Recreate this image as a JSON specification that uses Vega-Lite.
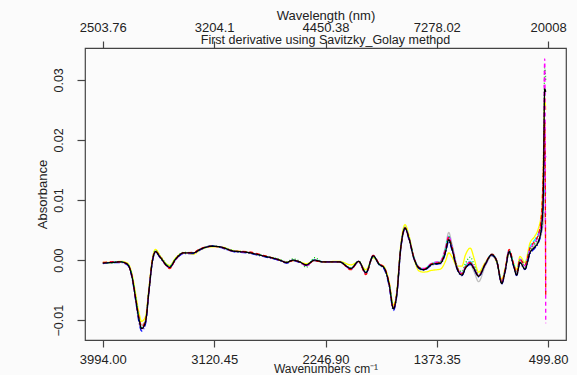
{
  "$schema": "https://vega.github.io/schema/vega-lite/v6.json",
  "width": 481,
  "height": 292,
  "autosize": {"type": "none"},
  "padding": {"left": 85, "top": 48, "right": 11, "bottom": 35},
  "background": "#fbfbfb",
  "title": {"text": "First derivative using Savitzky_Golay method", "offset": -37, "fontSize": 12.5, "fontWeight": "normal", "font": "Liberation Sans", "color": "#222", "anchor": "middle"},
  "config": {
    "view": {"stroke": "#444", "strokeWidth": 1.2},
    "axis": {"grid": false, "domain": false, "labelFont": "Liberation Sans", "titleFont": "Liberation Sans", "labelFontSize": 13, "titleFontSize": 13, "titleFontWeight": "normal", "labelColor": "#222", "titleColor": "#222", "tickColor": "#444", "tickSize": 7, "tickWidth": 1.2}
  },
  "resolve": {"axis": {"x": "independent"}},
  "layer": [
    {
      "data": {"values": [
        {"x":3994,"k":-0.0005,"r":-0.0004,"g":-0.0005,"b":-0.0006,"c":-0.0005,"m":-0.0005,"y":-0.0004,"e":-0.0005},
        {"x":3920,"k":-0.0004,"r":-0.0003,"g":-0.0004,"b":-0.0004,"c":-0.0004,"m":-0.0003,"y":-0.0004,"e":-0.0004},
        {"x":3854,"k":-0.0003,"r":-0.0003,"g":-0.0003,"b":-0.0004,"c":-0.0003,"m":-0.0003,"y":-0.0002,"e":-0.0003},
        {"x":3801,"k":-0.0007,"r":-0.0007,"g":-0.0006,"b":-0.0008,"c":-0.0007,"m":-0.0007,"y":-0.0005,"e":-0.0007},
        {"x":3762,"k":-0.0031,"r":-0.0030,"g":-0.0029,"b":-0.0033,"c":-0.0030,"m":-0.0031,"y":-0.0026,"e":-0.0029},
        {"x":3737,"k":-0.0064,"r":-0.0062,"g":-0.0062,"b":-0.0067,"c":-0.0063,"m":-0.0064,"y":-0.0056,"e":-0.0061},
        {"x":3711,"k":-0.0098,"r":-0.0095,"g":-0.0096,"b":-0.0103,"c":-0.0097,"m":-0.0098,"y":-0.0087,"e":-0.0094},
        {"x":3690,"k":-0.0114,"r":-0.0111,"g":-0.0112,"b":-0.0118,"c":-0.0113,"m":-0.0114,"y":-0.0102,"e":-0.0108},
        {"x":3659,"k":-0.0103,"r":-0.0100,"g":-0.0101,"b":-0.0106,"c":-0.0102,"m":-0.0103,"y":-0.0094,"e":-0.0099},
        {"x":3633,"k":-0.0053,"r":-0.0051,"g":-0.0050,"b":-0.0055,"c":-0.0052,"m":-0.0053,"y":-0.0048,"e":-0.0051},
        {"x":3606,"k":-0.0003,"r":-0.0001,"g":0.0000,"b":-0.0004,"c":-0.0002,"m":-0.0002,"y":0.0001,"e":-0.0002},
        {"x":3581,"k":0.0014,"r":0.0015,"g":0.0016,"b":0.0013,"c":0.0015,"m":0.0014,"y":0.0018,"e":0.0015},
        {"x":3542,"k":0.0004,"r":0.0005,"g":0.0006,"b":0.0003,"c":0.0004,"m":0.0004,"y":0.0006,"e":0.0004},
        {"x":3469,"k":-0.0012,"r":-0.0014,"g":-0.0010,"b":-0.0012,"c":-0.0011,"m":-0.0013,"y":-0.0009,"e":-0.0011},
        {"x":3425,"k":0.0001,"r":0.0001,"g":0.0002,"b":0.0000,"c":0.0001,"m":0.0000,"y":0.0003,"e":0.0001},
        {"x":3360,"k":0.0012,"r":0.0012,"g":0.0013,"b":0.0011,"c":0.0012,"m":0.0012,"y":0.0012,"e":0.0012},
        {"x":3282,"k":0.0012,"r":0.0013,"g":0.0012,"b":0.0011,"c":0.0012,"m":0.0012,"y":0.0010,"e":0.0012},
        {"x":3230,"k":0.0018,"r":0.0019,"g":0.0018,"b":0.0017,"c":0.0018,"m":0.0018,"y":0.0017,"e":0.0018},
        {"x":3138,"k":0.0023,"r":0.0023,"g":0.0024,"b":0.0024,"c":0.0023,"m":0.0023,"y":0.0022,"e":0.0023},
        {"x":3074,"k":0.0022,"r":0.0022,"g":0.0022,"b":0.0021,"c":0.0022,"m":0.0022,"y":0.0022,"e":0.0022},
        {"x":2970,"k":0.0015,"r":0.0015,"g":0.0016,"b":0.0014,"c":0.0015,"m":0.0015,"y":0.0016,"e":0.0015},
        {"x":2865,"k":0.0013,"r":0.0014,"g":0.0013,"b":0.0012,"c":0.0013,"m":0.0013,"y":0.0013,"e":0.0013},
        {"x":2736,"k":0.0007,"r":0.0008,"g":0.0007,"b":0.0006,"c":0.0007,"m":0.0007,"y":0.0007,"e":0.0007},
        {"x":2606,"k":0.0000,"r":0.0000,"g":0.0001,"b":-0.0001,"c":0.0000,"m":0.0000,"y":0.0000,"e":0.0000},
        {"x":2553,"k":-0.0004,"r":-0.0004,"g":-0.0003,"b":-0.0005,"c":-0.0004,"m":-0.0004,"y":-0.0004,"e":-0.0004},
        {"x":2502,"k":0.0000,"r":-0.0001,"g":0.0002,"b":-0.0001,"c":0.0000,"m":0.0000,"y":-0.0001,"e":0.0000},
        {"x":2450,"k":-0.0003,"r":-0.0003,"g":-0.0002,"b":-0.0004,"c":-0.0003,"m":-0.0003,"y":-0.0003,"e":-0.0003},
        {"x":2398,"k":-0.0008,"r":-0.0008,"g":-0.0012,"b":-0.0009,"c":-0.0008,"m":-0.0010,"y":-0.0006,"e":-0.0008},
        {"x":2333,"k":0.0000,"r":-0.0001,"g":0.0004,"b":-0.0001,"c":0.0001,"m":0.0000,"y":-0.0001,"e":0.0000},
        {"x":2268,"k":-0.0003,"r":-0.0003,"g":-0.0003,"b":-0.0003,"c":-0.0003,"m":-0.0003,"y":-0.0003,"e":-0.0003},
        {"x":2138,"k":-0.0003,"r":-0.0003,"g":-0.0003,"b":-0.0003,"c":-0.0003,"m":-0.0003,"y":-0.0002,"e":-0.0003},
        {"x":2047,"k":-0.0014,"r":-0.0016,"g":-0.0013,"b":-0.0015,"c":-0.0014,"m":-0.0015,"y":-0.0008,"e":-0.0013},
        {"x":1987,"k":-0.0002,"r":-0.0002,"g":-0.0002,"b":-0.0003,"c":-0.0002,"m":-0.0002,"y":-0.0003,"e":-0.0002},
        {"x":1930,"k":-0.0021,"r":-0.0024,"g":-0.0020,"b":-0.0022,"c":-0.0021,"m":-0.0022,"y":-0.0016,"e":-0.0020},
        {"x":1873,"k":0.0007,"r":0.0008,"g":0.0006,"b":0.0006,"c":0.0007,"m":0.0008,"y":0.0004,"e":0.0007},
        {"x":1826,"k":-0.0007,"r":-0.0006,"g":-0.0007,"b":-0.0008,"c":-0.0007,"m":-0.0006,"y":-0.0006,"e":-0.0007},
        {"x":1787,"k":-0.0013,"r":-0.0012,"g":-0.0013,"b":-0.0015,"c":-0.0013,"m":-0.0012,"y":-0.0011,"e":-0.0013},
        {"x":1748,"k":-0.0040,"r":-0.0038,"g":-0.0040,"b":-0.0043,"c":-0.0040,"m":-0.0040,"y":-0.0036,"e":-0.0039},
        {"x":1714,"k":-0.0081,"r":-0.0079,"g":-0.0080,"b":-0.0084,"c":-0.0080,"m":-0.0081,"y":-0.0075,"e":-0.0078},
        {"x":1688,"k":-0.0058,"r":-0.0056,"g":-0.0057,"b":-0.0060,"c":-0.0057,"m":-0.0058,"y":-0.0053,"e":-0.0056},
        {"x":1657,"k":0.0019,"r":0.0020,"g":0.0020,"b":0.0017,"c":0.0020,"m":0.0019,"y":0.0024,"e":0.0020},
        {"x":1623,"k":0.0053,"r":0.0054,"g":0.0054,"b":0.0051,"c":0.0055,"m":0.0053,"y":0.0059,"e":0.0055},
        {"x":1592,"k":0.0036,"r":0.0037,"g":0.0037,"b":0.0034,"c":0.0038,"m":0.0036,"y":0.0041,"e":0.0038},
        {"x":1553,"k":0.0003,"r":0.0004,"g":0.0004,"b":0.0002,"c":0.0005,"m":0.0004,"y":0.0003,"e":0.0005},
        {"x":1514,"k":-0.0013,"r":-0.0012,"g":-0.0013,"b":-0.0014,"c":-0.0012,"m":-0.0012,"y":-0.0018,"e":-0.0012},
        {"x":1475,"k":-0.0016,"r":-0.0015,"g":-0.0016,"b":-0.0017,"c":-0.0015,"m":-0.0014,"y":-0.0020,"e":-0.0015},
        {"x":1410,"k":-0.0007,"r":-0.0006,"g":-0.0006,"b":-0.0008,"c":-0.0005,"m":-0.0005,"y":-0.0017,"e":-0.0005},
        {"x":1345,"k":-0.0005,"r":-0.0004,"g":-0.0003,"b":-0.0006,"c":-0.0003,"m":-0.0002,"y":-0.0015,"e":-0.0002},
        {"x":1306,"k":0.0013,"r":0.0016,"g":0.0017,"b":0.0011,"c":0.0018,"m":0.0019,"y":-0.0002,"e":0.0022},
        {"x":1280,"k":0.0034,"r":0.0038,"g":0.0039,"b":0.0031,"c":0.0040,"m":0.0040,"y":0.0012,"e":0.0046},
        {"x":1254,"k":0.0018,"r":0.0021,"g":0.0022,"b":0.0016,"c":0.0023,"m":0.0022,"y":0.0005,"e":0.0026},
        {"x":1215,"k":-0.0014,"r":-0.0012,"g":-0.0011,"b":-0.0015,"c":-0.0011,"m":-0.0012,"y":-0.0010,"e":-0.0010},
        {"x":1176,"k":-0.0025,"r":-0.0023,"g":-0.0019,"b":-0.0026,"c":-0.0022,"m":-0.0022,"y":-0.0010,"e":-0.0024},
        {"x":1150,"k":-0.0014,"r":-0.0012,"g":-0.0006,"b":-0.0015,"c":-0.0010,"m":-0.0011,"y":0.0008,"e":-0.0013},
        {"x":1111,"k":-0.0006,"r":-0.0004,"g":0.0005,"b":-0.0007,"c":-0.0002,"m":-0.0003,"y":0.0020,"e":-0.0008},
        {"x":1080,"k":-0.0015,"r":-0.0014,"g":-0.0008,"b":-0.0016,"c":-0.0012,"m":-0.0013,"y":0.0002,"e":-0.0020},
        {"x":1046,"k":-0.0027,"r":-0.0026,"g":-0.0024,"b":-0.0028,"c":-0.0026,"m":-0.0026,"y":-0.0020,"e":-0.0036},
        {"x":994,"k":-0.0007,"r":-0.0006,"g":-0.0007,"b":-0.0008,"c":-0.0006,"m":-0.0007,"y":-0.0004,"e":-0.0010},
        {"x":942,"k":0.0009,"r":0.0010,"g":0.0009,"b":0.0008,"c":0.0010,"m":0.0009,"y":0.0008,"e":0.0007},
        {"x":903,"k":-0.0002,"r":-0.0001,"g":-0.0002,"b":-0.0003,"c":-0.0001,"m":-0.0002,"y":-0.0004,"e":-0.0003},
        {"x":864,"k":-0.0039,"r":-0.0036,"g":-0.0037,"b":-0.0040,"c":-0.0036,"m":-0.0037,"y":-0.0032,"e":-0.0038},
        {"x":838,"k":-0.0019,"r":-0.0016,"g":-0.0017,"b":-0.0020,"c":-0.0016,"m":-0.0017,"y":-0.0014,"e":-0.0018},
        {"x":806,"k":0.0014,"r":0.0018,"g":0.0015,"b":0.0013,"c":0.0016,"m":0.0016,"y":0.0012,"e":0.0014},
        {"x":773,"k":-0.0008,"r":-0.0005,"g":-0.0006,"b":-0.0009,"c":-0.0005,"m":-0.0006,"y":-0.0004,"e":-0.0007},
        {"x":747,"k":-0.0025,"r":-0.0021,"g":-0.0022,"b":-0.0026,"c":-0.0020,"m":-0.0022,"y":-0.0016,"e":-0.0023},
        {"x":721,"k":-0.0004,"r":0.0001,"g":0.0000,"b":-0.0005,"c":0.0002,"m":0.0001,"y":0.0006,"e":-0.0002},
        {"x":682,"k":-0.0015,"r":-0.0008,"g":-0.0010,"b":-0.0016,"c":-0.0007,"m":-0.0009,"y":-0.0004,"e":-0.0012},
        {"x":643,"k":0.0012,"r":0.0020,"g":0.0016,"b":0.0010,"c":0.0022,"m":0.0018,"y":0.0028,"e":0.0014},
        {"x":604,"k":0.0022,"r":0.0032,"g":0.0028,"b":0.0020,"c":0.0034,"m":0.0030,"y":0.0040,"e":0.0025},
        {"x":578,"k":0.0030,"r":0.0042,"g":0.0038,"b":0.0028,"c":0.0044,"m":0.0040,"y":0.0052,"e":0.0032},
        {"x":552,"k":0.0055,"r":0.0075,"g":0.0070,"b":0.0050,"c":0.0060,"m":0.0068,"y":0.0080,"e":0.0045},
        {"x":539,"k":0.0100,"r":0.0140,"g":0.0130,"b":0.0095,"c":0.0085,"m":0.0125,"y":0.0150,"e":0.0060},
        {"x":527,"k":0.0285,"r":0.0230,"g":0.0320,"b":0.0180,"c":0.0120,"m":0.0335,"y":0.0270,"e":0.0080},
        {"x":519,"k":0.0280,"r":-0.0060,"g":0.0300,"b":0.0170,"c":0.0110,"m":-0.0105,"y":0.0250,"e":0.0075}
      ]},
      "transform": [{"fold": ["e", "y", "c", "b", "g", "m", "r", "k"], "as": ["series", "value"]}],
      "mark": {"type": "line", "strokeWidth": 1.3, "interpolate": "monotone"},
      "encoding": {
        "x": {"field": "x", "type": "quantitative", "scale": {"domain": [4134, 360], "nice": false, "zero": false},
              "axis": {"orient": "bottom", "values": [3994, 3120.45, 2246.9, 1373.35, 499.8], "format": ".2f", "title": "Wavenumbers cm⁻¹", "labelPadding": 6, "titlePadding": -3, "titleFontSize": 12, "labelFlush": false}},
        "y": {"field": "value", "type": "quantitative", "scale": {"domain": [-0.0133, 0.0353], "nice": false, "zero": false},
              "axis": {"values": [-0.01, 0, 0.01, 0.02, 0.03], "format": ".2f", "title": "Absorbance", "tickSize": 8, "labelFontSize": 12.5, "labelAngle": -90, "labelAlign": "center", "labelBaseline": "bottom", "labelPadding": 12, "titlePadding": 3}},
        "color": {"field": "series", "type": "nominal", "legend": null,
                  "scale": {"domain": ["k", "r", "g", "b", "c", "m", "y", "e"], "range": ["#000000", "#FF0000", "#00CD00", "#0000FF", "#00FFFF", "#FF00FF", "#FFFF00", "#BEBEBE"]}},
        "strokeDash": {"field": "series", "type": "nominal", "legend": null,
                  "scale": {"domain": ["k", "r", "g", "b", "c", "m", "y", "e"], "range": [[1,0], [4,3], [1,2], [6,2,1,2], [6,2], [4,3], [1,0], [1,0]]}}
      }
    },
    {
      "data": {"values": [{"x": 3994}, {"x": 499.8}]},
      "mark": {"type": "rule", "opacity": 0},
      "encoding": {
        "x": {"field": "x", "type": "quantitative", "scale": {"domain": [4134, 360], "nice": false, "zero": false},
              "axis": {"orient": "top", "values": [3994, 3120.45, 2246.9, 1373.35, 499.8], "labelExpr": "datum.value == 3994 ? '2503.76' : datum.value == 3120.45 ? '3204.1' : datum.value == 2246.9 ? '4450.38' : datum.value == 1373.35 ? '7278.02' : '20008'", "title": "Wavelength (nm)", "labelPadding": 7, "titlePadding": -1, "labelFlush": false}}
      }
    }
  ]
}
